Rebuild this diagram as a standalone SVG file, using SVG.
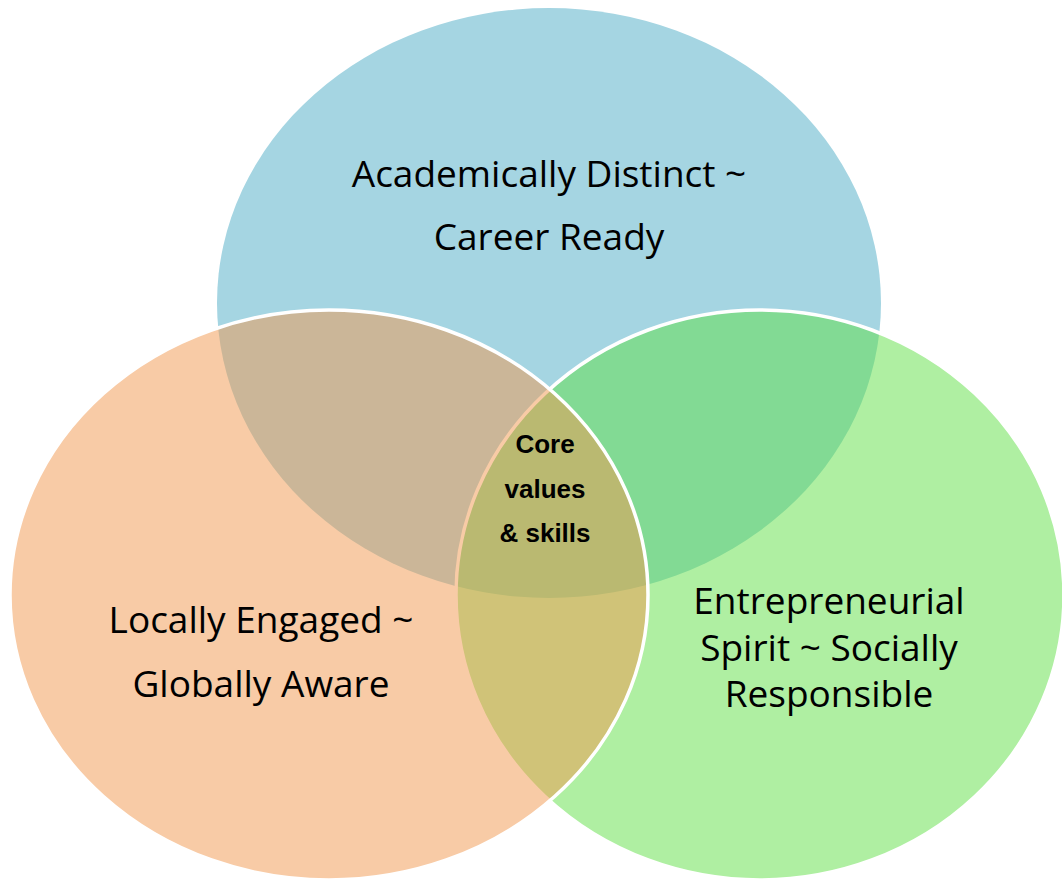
<svg xmlns="http://www.w3.org/2000/svg" width="1062" height="879" viewBox="0 0 1062 879">
  <style>
    .lbl { font-family: "Open Sans", "Liberation Sans", sans-serif; font-size: 37px; fill: #000000; text-anchor: middle; }
    .core { font-family: "Liberation Sans", Arial, sans-serif; font-size: 26px; font-weight: bold; fill: #000000; text-anchor: middle; }
    .ov { stroke: #FFFFFF; stroke-width: 3.5; fill-opacity: 0.5; }
  </style>
  <rect x="0" y="0" width="1062" height="879" fill="#FFFFFF"/>
  <g id="node-academic">
    <ellipse cx="549" cy="303" rx="332" ry="295" fill="#A5D5E2"/>
    <text class="lbl" x="549" y="187">Academically Distinct ~</text>
    <text class="lbl" x="549" y="250">Career Ready</text>
  </g>
  <g id="node-entrepreneurial">
    <ellipse class="ov" cx="760" cy="595" rx="304" ry="285" fill="#5FDF45"/>
    <text class="lbl" x="829" y="614">Entrepreneurial</text>
    <text class="lbl" x="829" y="661">Spirit ~ Socially</text>
    <text class="lbl" x="829" y="707">Responsible</text>
  </g>
  <g id="node-local">
    <ellipse class="ov" cx="329" cy="595" rx="319" ry="285" fill="#F1974D"/>
    <text class="lbl" x="261" y="633">Locally Engaged ~</text>
    <text class="lbl" x="261" y="697">Globally Aware</text>
  </g>
  <g id="node-core">
    <text class="core" x="545" y="453">Core</text>
    <text class="core" x="545" y="498">values</text>
    <text class="core" x="545" y="542">&amp; skills</text>
  </g>
  <g id="connectors"/>
</svg>
